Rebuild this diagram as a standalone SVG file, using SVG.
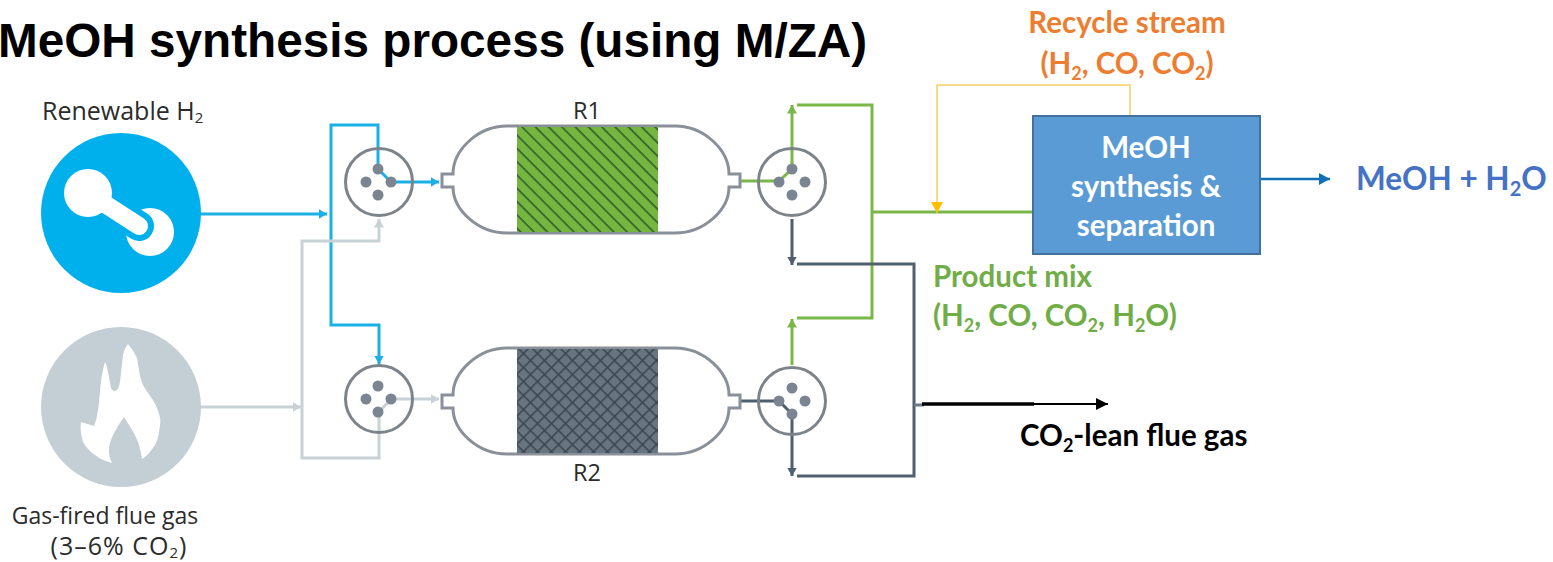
<svg xmlns="http://www.w3.org/2000/svg" width="1553" height="562" viewBox="0 0 1553 562">
<style>
.lab{font-family:"Open Sans","Noto Sans",sans-serif;fill:#2b2b2b}
.bold{font-family:Lato,"Open Sans",sans-serif;font-weight:700;font-size:29.5px}
.sub{font-size:18px}
.ves{fill:#fff;stroke:#8a9099;stroke-width:3}
.vc{fill:none;stroke:#7d838b;stroke-width:3}
.dot{fill:#7b8591}
.c{fill:none;stroke-linejoin:miter}
.blue{stroke:#1ab0e6;stroke-width:3}
.grey{stroke:#c8d1d6;stroke-width:3}
.green{stroke:#7ab648;stroke-width:3}
.dark{stroke:#4f5f6e;stroke-width:3}
</style>
<defs>
<marker id="aBlue" markerUnits="userSpaceOnUse" markerWidth="9" markerHeight="10" refX="8.5" refY="5" orient="auto"><path d="M0 0L8.5 5L0 10Z" fill="#1ab0e6"/></marker>
<marker id="aGrey" markerUnits="userSpaceOnUse" markerWidth="9" markerHeight="10" refX="8.5" refY="5" orient="auto"><path d="M0 0L8.5 5L0 10Z" fill="#c8d1d6"/></marker>
<marker id="aGreen" markerUnits="userSpaceOnUse" markerWidth="9" markerHeight="10" refX="8.5" refY="5" orient="auto"><path d="M0 0L8.5 5L0 10Z" fill="#7ab648"/></marker>
<marker id="aDark" markerUnits="userSpaceOnUse" markerWidth="9" markerHeight="10" refX="8.5" refY="5" orient="auto"><path d="M0 0L8.5 5L0 10Z" fill="#4f5f6e"/></marker>
<marker id="aBlack" markerUnits="userSpaceOnUse" markerWidth="12" markerHeight="12" refX="12" refY="6" orient="auto"><path d="M0 0L12 6L0 12Z" fill="#000"/></marker>
<marker id="aYel" markerUnits="userSpaceOnUse" markerWidth="12" markerHeight="12" refX="11" refY="6" orient="auto"><path d="M0 0L11 6L0 12Z" fill="#ffc000"/></marker>
<marker id="aOut" markerUnits="userSpaceOnUse" markerWidth="12" markerHeight="12" refX="11" refY="6" orient="auto"><path d="M0 0L11 6L0 12Z" fill="#0f6fb8"/></marker>
<pattern id="hGreen" width="9.4" height="9.4" patternUnits="userSpaceOnUse" patternTransform="rotate(45 517 126)"><rect width="9.4" height="9.4" fill="#74b63f"/><rect width="9.4" height="1.7" fill="#35632c"/></pattern>
<pattern id="hDark" width="9.9" height="9.9" patternUnits="userSpaceOnUse" patternTransform="rotate(45 517 348)"><rect width="9.9" height="9.9" fill="#68757f"/><rect width="9.9" height="1.5" fill="#38444f"/><rect width="1.5" height="9.9" fill="#38444f"/></pattern>
</defs>

<text id="title" x="-2" y="57" font-family="Liberation Sans, Arial, sans-serif" font-weight="700" font-size="47.7" fill="#000">MeOH synthesis process (using M/ZA)</text>

<g id="connectors">
<path class="c blue" d="M200 214H327" marker-end="url(#aBlue)"/>
<path class="c blue" d="M391 182L378 169V125H331V325H379V364" marker-end="url(#aBlue)"/>
<path class="c blue" d="M391 182H439" marker-end="url(#aBlue)"/>
<path class="c grey" d="M200 407H301" marker-end="url(#aGrey)"/>
<path class="c grey" d="M391 399L379 412V458H302V241H379V219" marker-end="url(#aGrey)"/>
<path class="c grey" d="M391 399H439" marker-end="url(#aGrey)"/>
<path class="c green" d="M740 181H779L792 169V105" marker-end="url(#aGreen)"/>
<path class="c green" d="M797 105H872V318H797"/>
<path class="c green" d="M792 365V319" marker-end="url(#aGreen)"/>
<path class="c green" d="M872 212H1033"/>
<path class="c dark" d="M792 219V265" marker-end="url(#aDark)"/>
<path class="c dark" d="M797 264H914V476H797"/>
<path class="c dark" d="M740 401H779L792 414V476" marker-end="url(#aDark)"/>
<path class="c grey" stroke-width="2" d="M914 405H924" style="stroke:#6d7a86"/>
<path class="c" stroke="#000" stroke-width="3.5" d="M922 404H1034"/>
<path class="c" stroke="#000" stroke-width="2" d="M1034 404H1108" marker-end="url(#aBlack)"/>
<path class="c" stroke="#f6cf62" stroke-width="1.5" d="M1130 116V85H937V213" marker-end="url(#aYel)"/>
<path class="c" stroke="#0f6fb8" stroke-width="2.5" d="M1261 179H1330" marker-end="url(#aOut)"/>
</g>

<g id="source-h2">
<circle cx="121" cy="213" r="80" fill="#00b0ed"/>
<circle cx="150" cy="232" r="24" fill="#fff"/>
<path d="M88 193L139 226" stroke="#00b0ed" stroke-width="30" stroke-linecap="round"/>
<circle cx="88" cy="193" r="24" fill="#fff"/>
<path d="M88 193L139 226" stroke="#fff" stroke-width="18" stroke-linecap="round"/>
<text class="lab" x="42" y="120" font-size="25">Renewable H<tspan font-size="15" dy="3">2</tspan></text>
</g>

<g id="source-flue">
<circle cx="121" cy="407" r="80" fill="#c3cfd4"/>
<path fill="#fff" d="M128 344C133 350 135 354 137 358C139 370 140 378 143 385C148 394 154 400 157 408C160 416 161 420 160 425C159 434 158 440 155 445C151 451 147 456 142 459C141 453 140 448 138 442C134 432 129 425 124 417C119 424 116 429 113 435C110 442 109 446 109 450C109 455 110 459 112 463C105 461 100 459 95 455C90 452 86 447 83 442C81 435 80 428 81 422L94 426C96 421 97 416 98 410C100 398 100 385 102 375C103 370 104 365 105 362C107 365 107 368 108 372C109 378 110 383 111 388C112 390 113 391 115 391C118 390 119 387 120 382C121 373 122 364 123 355C124 350 126 346 128 344Z"/>
<text class="lab" x="105" y="524" font-size="23" text-anchor="middle">Gas-fired flue gas</text>
<text class="lab" x="119" y="555" font-size="25" letter-spacing="1" text-anchor="middle">(3–6% CO<tspan font-size="15" dy="3">2</tspan><tspan dy="-3">)</tspan></text>
</g>

<g id="valve-1">
<circle class="vc" cx="379" cy="182" r="33.5"/>
<circle class="dot" cx="378" cy="169" r="5.5"/><circle class="dot" cx="391" cy="182" r="5.5"/><circle class="dot" cx="366" cy="182" r="5.5"/><circle class="dot" cx="378" cy="195" r="5.5"/>
</g>
<g id="valve-2">
<circle class="vc" cx="379" cy="399" r="33.5"/>
<circle class="dot" cx="378" cy="386" r="5.5"/><circle class="dot" cx="391" cy="399" r="5.5"/><circle class="dot" cx="366" cy="399" r="5.5"/><circle class="dot" cx="378" cy="412" r="5.5"/>
</g>
<g id="valve-3">
<circle class="vc" cx="792" cy="182" r="33.5"/>
<circle class="dot" cx="792" cy="169" r="5.5"/><circle class="dot" cx="805" cy="182" r="5.5"/><circle class="dot" cx="779" cy="182" r="5.5"/><circle class="dot" cx="792" cy="195" r="5.5"/>
</g>
<g id="valve-4">
<circle class="vc" cx="792" cy="401" r="33.5"/>
<circle class="dot" cx="792" cy="388" r="5.5"/><circle class="dot" cx="805" cy="401" r="5.5"/><circle class="dot" cx="779" cy="401" r="5.5"/><circle class="dot" cx="792" cy="414" r="5.5"/>
</g>

<g id="reactor-r1">
<path class="ves" d="M507 126H675C704 126 729 150 729 174H740V187H729C729 210 704 233 675 233H507C478 233 453 210 453 187H442V174H453C453 150 478 126 507 126Z"/>
<rect x="517" y="127" width="141" height="105" fill="url(#hGreen)"/>
<text class="lab" x="587" y="119" font-size="23.5" text-anchor="middle">R1</text>
</g>
<g id="reactor-r2">
<path class="ves" d="M507 348H675C704 348 729 372 729 395H740V408H729C729 431 704 454 675 454H507C478 454 453 431 453 408H442V395H453C453 372 478 348 507 348Z"/>
<rect x="517" y="349" width="141" height="104" fill="url(#hDark)"/>
<text class="lab" x="587" y="481" font-size="23.5" text-anchor="middle">R2</text>
</g>

<g id="meoh-box">
<rect x="1033" y="116" width="227" height="138" fill="#5b9bd5" stroke="#41719c" stroke-width="2"/>
<text class="bold" x="1146" y="157.5" fill="#fff" text-anchor="middle">MeOH</text>
<text class="bold" x="1146" y="196.5" fill="#fff" text-anchor="middle">synthesis &amp;</text>
<text class="bold" x="1146" y="235.5" fill="#fff" text-anchor="middle">separation</text>
</g>

<g id="labels">
<text class="bold" x="1127" y="33" fill="#ed7d31" text-anchor="middle">Recycle stream</text>
<text class="bold" x="1127" y="74" fill="#ed7d31" text-anchor="middle">(H<tspan class="sub" dy="6">2</tspan><tspan dy="-6">, CO, CO</tspan><tspan class="sub" dy="6">2</tspan><tspan dy="-6">)</tspan></text>
<text class="bold" x="933" y="286.5" fill="#70ad47">Product mix</text>
<text class="bold" x="933" y="326" fill="#70ad47">(H<tspan class="sub" dy="6">2</tspan><tspan dy="-6">, CO, CO</tspan><tspan class="sub" dy="6">2</tspan><tspan dy="-6">, H</tspan><tspan class="sub" dy="6">2</tspan><tspan dy="-6">O)</tspan></text>
<text class="bold" x="1356" y="189.5" style="font-size:31.5px" fill="#4472c4">MeOH + H<tspan class="sub" style="font-size:20px" dy="6">2</tspan><tspan dy="-6">O</tspan></text>
<text class="bold" x="1020" y="446" fill="#000">CO<tspan class="sub" dy="6">2</tspan><tspan dy="-6">-lean flue gas</tspan></text>
</g>
</svg>
